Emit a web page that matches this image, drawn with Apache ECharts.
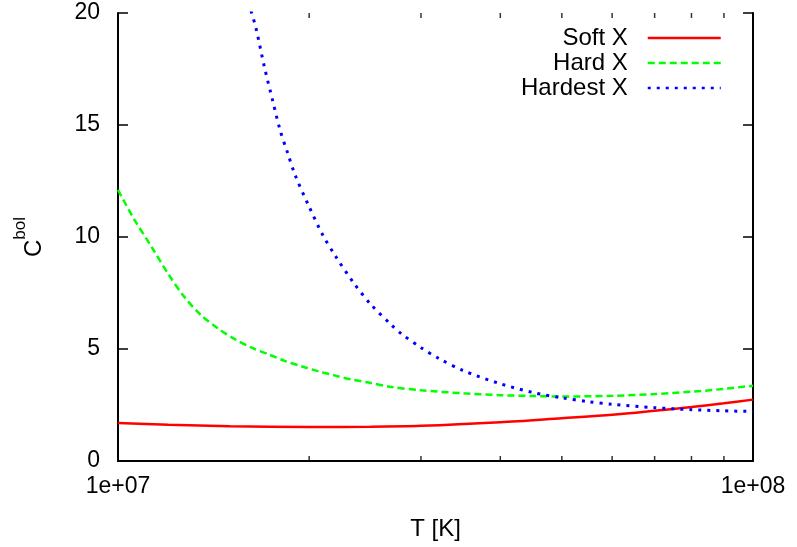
<!DOCTYPE html>
<html>
<head>
<meta charset="utf-8">
<script src="https://cdn.jsdelivr.net/npm/echarts@6/dist/echarts.min.js"></script>
<style>html,body{margin:0;padding:0;background:#fff}#c{width:797px;height:547px}</style>
</head>
<body>
<div id="c"></div>
<script>
// ---- data ----
const softT   = [1.0e7, 1.2e7, 1.5e7, 2.0e7, 2.5e7, 3.0e7, 4.0e7, 5.0e7, 6.0e7, 7.0e7, 8.0e7, 9.0e7, 1.0e8];
const softVal = [1.70,  1.62,  1.55,  1.52,  1.53,  1.57,  1.73,  1.91,  2.06,  2.24,  2.41,  2.58,  2.74];

const hardT   = [1.0e7, 1.06e7, 1.13e7, 1.2e7, 1.27e7, 1.35e7, 1.44e7, 1.53e7, 1.62e7, 1.73e7, 1.83e7, 1.95e7, 2.07e7, 2.2e7, 2.33e7, 2.48e7, 2.7e7, 3.0e7, 3.5e7, 4.0e7, 4.5e7, 5.0e7, 6.0e7, 7.0e7, 8.0e7, 9.0e7, 1.0e8];
const hardVal = [12.1,  10.8,   9.55,   8.35,  7.35,   6.52,   5.9,    5.43,   5.07,   4.75,   4.47,   4.22,   4.0,    3.81,  3.64,   3.5,    3.3,   3.16,  3.02,  2.94,  2.9,   2.88,  2.91,  2.99,  3.09,  3.22,  3.36];

const hardestT   = [1.62e7, 1.65e7, 1.7e7, 1.75e7, 1.8e7, 1.85e7, 1.9e7, 2.0e7, 2.1e7, 2.2e7, 2.35e7, 2.5e7, 2.7e7, 2.8e7, 3.0e7, 3.2e7, 3.5e7, 4.0e7, 4.5e7, 5.0e7, 5.5e7, 6.0e7, 7.0e7, 8.0e7, 9.0e7, 1.0e8];
const hardestVal = [20.1,   19.3,   17.6,  16.15,  14.77, 13.75,  12.78, 11.35, 10.1,  9.15,  7.95,   7.0,   6.05,  5.66,  5.06,  4.58,  4.03,  3.45,  3.06,  2.82,  2.65,  2.53,  2.38,  2.29,  2.24,  2.21];

const seriesNames = ['Soft X', 'Hard X', 'Hardest X'];
const xLabelValues = [1e7, 1e8];
const xLabelTexts = ['1e+07', '1e+08'];
const xMinorTicks = [2e7, 3e7, 4e7, 5e7, 6e7, 7e7, 8e7, 9e7];
const yTicks = [0, 5, 10, 15, 20];
const yMin = 0, yMax = 20;

// ---- chart ----
const FONT = 'Liberation Sans, Arial, Helvetica, sans-serif';
const zip = (a, b) => a.map((v, i) => [v, b[i]]);
const xFmt = v => {
  let best = 0;
  xLabelValues.forEach((t, i) => { if (Math.abs(Math.log10(v) - Math.log10(t)) < Math.abs(Math.log10(v) - Math.log10(xLabelValues[best]))) best = i; });
  return xLabelTexts[best];
};
const axisLine = { show: true, lineStyle: { color: '#000', width: 2 } };

const chart = echarts.init(document.getElementById('c'), null, { renderer: 'canvas' });
const legendBase = (name, top) => ({
  data: [name], orient: 'vertical', right: 75, top: top, padding: 0,
  align: 'right', itemWidth: 73, itemHeight: 14, selectedMode: false,
  itemStyle: { opacity: 0, borderWidth: 0 },
  lineStyle: { width: 2.5 },
  textStyle: { fontFamily: FONT, fontSize: 24, color: '#000', padding: [0, 15, 0, 0], lineHeight: 24 }
});
const minorTickSeries = (yVal, dir) => ({
  type: 'scatter', data: xMinorTicks.map(t => [t, yVal]), symbol: 'rect',
  symbolSize: [1.5, 5], symbolOffset: [0, dir * 2.5], clip: false, silent: true,
  itemStyle: { color: '#000' }, z: 5, legendHoverLink: false
});

chart.setOption({
  animation: false,
  backgroundColor: '#fff',
  grid: { left: 118, right: 44, top: 13, bottom: 86, containLabel: false },
  legend: [legendBase(seriesNames[0], 26), legendBase(seriesNames[1], 51), legendBase(seriesNames[2], 76)],
  xAxis: [
    {
      type: 'log', logBase: 10, min: 1e7, max: 1e8, position: 'bottom',
      name: 'T [K]', nameLocation: 'middle', nameGap: 56,
      nameTextStyle: { fontFamily: FONT, fontSize: 24, color: '#000' },
      axisLine: axisLine,
      axisTick: { show: false },
      axisLabel: { show: true, customValues: xLabelValues, formatter: xFmt, margin: 14, fontFamily: FONT, fontSize: 23, color: '#000' },
      splitLine: { show: false }, minorTick: { show: false }
    },
    {
      type: 'log', logBase: 10, min: 1e7, max: 1e8, position: 'top',
      axisLine: axisLine, axisTick: { show: false },
      axisLabel: { show: false }, splitLine: { show: false }
    }
  ],
  yAxis: [
    {
      type: 'value', min: yMin, max: yMax, interval: 5, position: 'left',
      name: '{a|C}{b|bol}', nameLocation: 'middle', nameGap: 72, nameRotate: 90,
      nameTextStyle: {
        color: '#000',
        rich: {
          a: { fontFamily: FONT, fontSize: 24, color: '#000', lineHeight: 34, verticalAlign: 'bottom' },
          b: { fontFamily: FONT, fontSize: 17, color: '#000', lineHeight: 34, verticalAlign: 'top' }
        }
      },
      axisLine: axisLine,
      axisTick: { show: true, inside: true, length: 10, customValues: yTicks, lineStyle: { color: '#000', width: 1.5 } },
      axisLabel: { show: true, margin: 18, fontFamily: FONT, fontSize: 23, color: '#000' },
      splitLine: { show: false }
    },
    {
      type: 'value', min: yMin, max: yMax, interval: 5, position: 'right',
      axisLine: axisLine,
      axisTick: { show: true, inside: true, length: 10, lineStyle: { color: '#000', width: 1.5 } },
      axisLabel: { show: false }, splitLine: { show: false }
    }
  ],
  series: [
    {
      name: seriesNames[0], type: 'line', data: zip(softT, softVal), symbol: 'none',
      smooth: 0.3, clip: true,
      lineStyle: { color: '#ff0000', width: 2.5, type: 'solid' }, itemStyle: { color: '#ff0000' }
    },
    {
      name: seriesNames[1], type: 'line', data: zip(hardT, hardVal), symbol: 'none',
      smooth: 0.3, clip: true,
      lineStyle: { color: '#00ff00', width: 2.5, type: [7, 4] }, itemStyle: { color: '#00ff00' }
    },
    {
      name: seriesNames[2], type: 'line', data: zip(hardestT, hardestVal), symbol: 'none',
      smooth: 0.3, clip: true,
      lineStyle: { color: '#0000ff', width: 3, type: [3, 6] }, itemStyle: { color: '#0000ff' }
    },
    minorTickSeries(yMin, -1),
    minorTickSeries(yMax, 1)
  ]
});
</script>
</body>
</html>
